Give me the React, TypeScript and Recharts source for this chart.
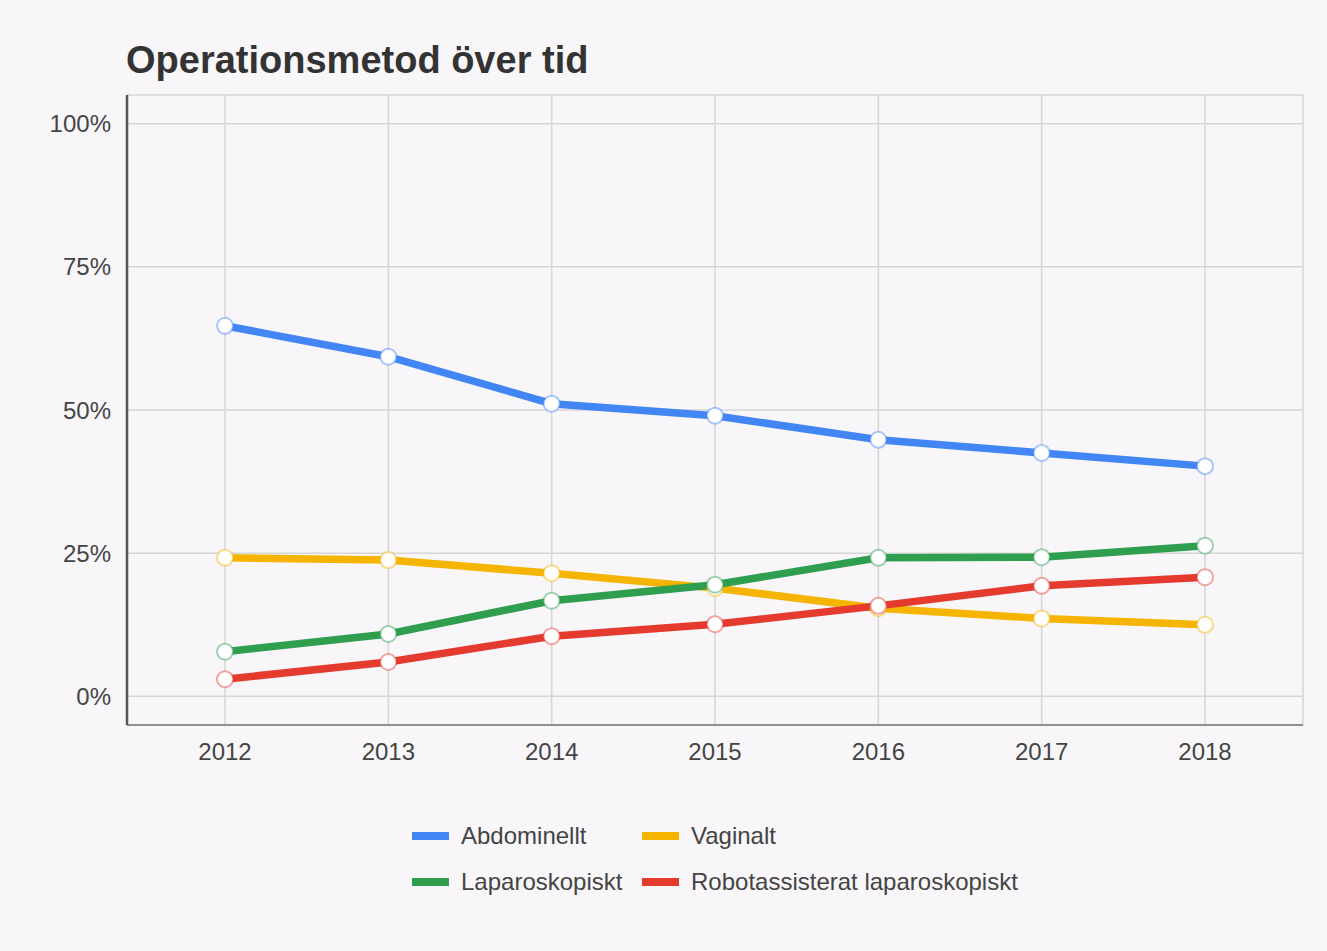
import { CartesianGrid, Line, LineChart, XAxis, YAxis } from 'recharts'

const years = ['2012', '2013', '2014', '2015', '2016', '2017', '2018']
const abdominellt = [64.7, 59.3, 51.1, 49.0, 44.8, 42.5, 40.2]
const vaginalt = [24.2, 23.8, 21.5, 18.9, 15.4, 13.6, 12.5]
const laparoskopiskt = [7.8, 10.9, 16.7, 19.5, 24.2, 24.3, 26.3]
const robot = [3.0, 6.0, 10.5, 12.6, 15.8, 19.3, 20.8]
const yTicks = [0, 25, 50, 75, 100]

const series = [
  { key: 'abd', name: 'Abdominellt', color: '#4285F4', values: abdominellt },
  { key: 'vag', name: 'Vaginalt', color: '#F4B400', values: vaginalt },
  { key: 'lap', name: 'Laparoskopiskt', color: '#2F9E4F', values: laparoskopiskt },
  { key: 'rob', name: 'Robotassisterat laparoskopiskt', color: '#E53B2F', values: robot },
]

const data = years.map((year, i) => {
  const row: Record<string, string | number> = { year }
  series.forEach((s) => {
    row[s.key] = s.values[i]
  })
  return row
})

const font = 'Arial, "Liberation Sans", sans-serif'

export default function App() {
  const tick = { fill: '#444', fontSize: 24, fontFamily: font }
  // legend: two columns, two rows
  const legendPos = [
    { left: 412, top: 836 },
    { left: 642, top: 836 },
    { left: 412, top: 882 },
    { left: 642, top: 882 },
  ]

  return (
    <div
      style={{
        position: 'absolute',
        left: 0,
        top: 0,
        width: 1327,
        height: 951,
        background: '#f8f6f9',
        fontFamily: font,
      }}
    >
      <div
        style={{
          position: 'absolute',
          left: 126,
          top: 38,
          fontSize: 38,
          fontWeight: 'bold',
          color: '#333',
          lineHeight: '44px',
        }}
      >
        Operationsmetod över tid
      </div>

      <div style={{ position: 'absolute', left: 0, top: 0 }}>
        <LineChart
          width={1327}
          height={790}
          data={data}
          margin={{ top: 95, right: 24, bottom: 0, left: 0 }}
        >
          <CartesianGrid stroke="#d6d6d6" strokeWidth={1.5} />
          <XAxis
            dataKey="year"
            padding={{ left: 98, right: 98 }}
            height={65}
            tickLine={false}
            tickMargin={12}
            tick={tick}
            axisLine={{ stroke: '#777', strokeWidth: 1.5 }}
          />
          <YAxis
            width={127}
            domain={[-5, 105]}
            ticks={yTicks}
            tickFormatter={(v) => `${v}%`}
            tickLine={false}
            tickMargin={10}
            tick={tick}
            axisLine={{ stroke: '#555', strokeWidth: 2.5 }}
          />
          {series.map((s) => (
            <Line
              key={s.key}
              dataKey={s.key}
              name={s.name}
              stroke={s.color}
              strokeWidth={7.5}
              dot={{ r: 8, fill: '#fff', stroke: s.color, strokeOpacity: 0.45, strokeWidth: 2 }}
              isAnimationActive={false}
            />
          ))}
        </LineChart>
      </div>

      {series.map((s, i) => (
        <div
          key={s.key}
          style={{
            position: 'absolute',
            left: legendPos[i].left,
            top: legendPos[i].top - 14,
            height: 28,
            display: 'flex',
            alignItems: 'center',
            fontSize: 24,
            color: '#444',
            whiteSpace: 'nowrap',
          }}
        >
          <span
            style={{
              display: 'inline-block',
              width: 37,
              height: 8,
              background: s.color,
              marginRight: 12,
            }}
          />
          {s.name}
        </div>
      ))}
    </div>
  )
}
